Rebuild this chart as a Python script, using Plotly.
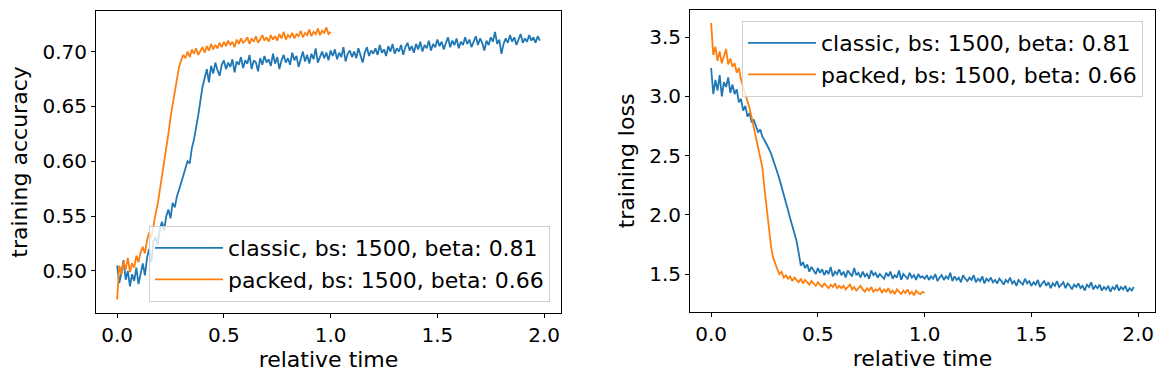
import numpy as np
import plotly.graph_objects as go

# ---------------- data ----------------
classic_acc = [
    0.505, 0.489, 0.498, 0.510, 0.492, 0.500, 0.486, 0.497, 0.491, 0.503, 0.488,
    0.499, 0.507, 0.496, 0.512, 0.520, 0.508, 0.527, 0.531, 0.524, 0.538,
    0.545, 0.537, 0.550, 0.556, 0.548, 0.562, 0.558, 0.568, 0.574, 0.580,
    0.586, 0.594, 0.600, 0.598, 0.612, 0.620, 0.630, 0.642, 0.655, 0.668,
    0.676, 0.684, 0.672, 0.687, 0.680, 0.690, 0.683, 0.678, 0.688, 0.692,
    0.684, 0.690, 0.686, 0.693, 0.681, 0.691, 0.688, 0.695, 0.685, 0.692,
    0.689, 0.697, 0.684, 0.692, 0.690, 0.682, 0.694, 0.688, 0.696, 0.690,
    0.693, 0.687, 0.698, 0.689, 0.695, 0.684, 0.692, 0.697, 0.690, 0.694,
    0.688, 0.699, 0.692, 0.696, 0.686, 0.694, 0.700, 0.691, 0.697, 0.689,
    0.698, 0.693, 0.703, 0.690, 0.696, 0.700, 0.694, 0.699, 0.692, 0.701,
    0.696, 0.702, 0.693, 0.699, 0.695, 0.704, 0.691, 0.698, 0.701, 0.695,
    0.700, 0.694, 0.703, 0.697, 0.690, 0.699, 0.704, 0.696, 0.701, 0.698,
    0.703, 0.697, 0.706, 0.699, 0.702, 0.696, 0.705, 0.700, 0.707, 0.698,
    0.703, 0.700, 0.706, 0.697, 0.704, 0.708, 0.701, 0.705, 0.699, 0.707,
    0.702, 0.709, 0.700, 0.706, 0.703, 0.710, 0.701, 0.707, 0.704, 0.711,
    0.705, 0.709, 0.702, 0.708, 0.713, 0.704, 0.710, 0.706, 0.712, 0.703,
    0.709, 0.706, 0.713, 0.707, 0.711, 0.704, 0.710, 0.714, 0.706, 0.712,
    0.708, 0.701, 0.710, 0.706, 0.713, 0.709, 0.718, 0.707, 0.711, 0.698,
    0.707, 0.712, 0.708, 0.715, 0.709, 0.713, 0.706, 0.711, 0.716, 0.708,
    0.712, 0.709, 0.715, 0.710, 0.713, 0.708, 0.714, 0.710,
]
packed_acc = [
    0.474, 0.505, 0.497, 0.509, 0.501, 0.512, 0.499, 0.507, 0.503, 0.514, 0.508,
    0.517, 0.522, 0.516, 0.528, 0.535, 0.530, 0.543, 0.552, 0.561, 0.573,
    0.585, 0.597, 0.610, 0.625, 0.640, 0.652, 0.665, 0.678, 0.686, 0.692,
    0.697, 0.694, 0.700, 0.695, 0.702, 0.698, 0.703, 0.697, 0.701, 0.704,
    0.699, 0.705, 0.701, 0.707, 0.702, 0.706, 0.703, 0.708, 0.704, 0.709,
    0.705, 0.710, 0.706, 0.709, 0.704, 0.711, 0.707, 0.712, 0.708, 0.710,
    0.713, 0.707, 0.712, 0.709, 0.714, 0.708, 0.711, 0.715, 0.710, 0.713,
    0.709, 0.715, 0.711, 0.714, 0.710, 0.716, 0.712, 0.718, 0.711, 0.715,
    0.713, 0.717, 0.712, 0.716, 0.714, 0.719, 0.713, 0.717, 0.715, 0.720,
    0.714, 0.718, 0.716, 0.721, 0.715, 0.719, 0.717, 0.722, 0.716, 0.718,
]
classic_loss = [
    3.24, 3.02, 3.14, 3.05, 3.18, 3.00, 3.12, 3.08, 3.16, 3.03, 3.10,
    3.02, 3.06, 2.95, 2.98, 2.88, 2.92, 2.83, 2.86, 2.78, 2.80,
    2.74, 2.70, 2.72, 2.66, 2.63, 2.60, 2.56, 2.52, 2.47, 2.42,
    2.36, 2.30, 2.24, 2.17, 2.10, 2.04, 1.97, 1.90, 1.84, 1.78,
    1.68, 1.57, 1.60, 1.55, 1.58, 1.52, 1.56, 1.53, 1.50, 1.55,
    1.51, 1.54, 1.49, 1.53, 1.50, 1.56, 1.48, 1.52, 1.50, 1.54,
    1.49, 1.52, 1.47, 1.53, 1.50, 1.48, 1.55, 1.49, 1.51, 1.47,
    1.52, 1.48, 1.50, 1.46, 1.53, 1.49, 1.51, 1.47, 1.50, 1.48,
    1.46, 1.51, 1.48, 1.52, 1.46, 1.49, 1.47, 1.53, 1.45, 1.50,
    1.48, 1.46, 1.51, 1.47, 1.49, 1.45, 1.50, 1.47, 1.48, 1.46,
    1.49, 1.45, 1.48, 1.46, 1.50, 1.44, 1.47, 1.49, 1.45, 1.48,
    1.46, 1.51, 1.44, 1.48, 1.45, 1.47, 1.43, 1.49, 1.46, 1.44,
    1.47, 1.45, 1.49, 1.43, 1.46, 1.44, 1.48, 1.42, 1.46, 1.44,
    1.47, 1.43, 1.45, 1.42, 1.46, 1.44, 1.41, 1.45, 1.43, 1.47,
    1.42, 1.44, 1.40, 1.45, 1.43, 1.41, 1.46, 1.42, 1.44, 1.40,
    1.43, 1.41, 1.45, 1.39, 1.42, 1.44, 1.40, 1.43, 1.38, 1.42,
    1.40, 1.44, 1.39, 1.41, 1.43, 1.38, 1.42, 1.40, 1.37, 1.41,
    1.39, 1.42, 1.38, 1.40, 1.36, 1.41, 1.39, 1.43, 1.37, 1.40,
    1.38, 1.41, 1.36, 1.39, 1.37, 1.40, 1.35, 1.39, 1.37, 1.41,
    1.36, 1.39, 1.37, 1.40, 1.35, 1.38, 1.36, 1.39,
]
packed_loss = [
    3.62, 3.35, 3.42, 3.30, 3.38, 3.28, 3.34, 3.40, 3.27, 3.32, 3.25,
    3.28, 3.20, 3.24, 3.14, 3.08, 3.03, 2.96, 2.90, 2.82, 2.74,
    2.66, 2.58, 2.50, 2.40, 2.22, 2.05, 1.88, 1.74, 1.64, 1.58,
    1.54, 1.50, 1.52, 1.47, 1.49, 1.46, 1.48, 1.44, 1.47, 1.45,
    1.43, 1.46, 1.42, 1.45, 1.43, 1.41, 1.44, 1.42, 1.40, 1.43,
    1.41, 1.39, 1.42, 1.40, 1.38, 1.41, 1.39, 1.42, 1.38, 1.40,
    1.38, 1.40, 1.37, 1.39, 1.41, 1.37, 1.39, 1.36, 1.38, 1.40,
    1.37, 1.35, 1.38, 1.36, 1.39, 1.35, 1.37, 1.36, 1.38, 1.34,
    1.37, 1.35, 1.38, 1.34, 1.36, 1.33, 1.37, 1.35, 1.33, 1.36,
    1.34, 1.37, 1.33, 1.35, 1.32, 1.36, 1.34, 1.33, 1.35, 1.34,
]
classic_end_time = 1.98
packed_end_time = 1.0
classic_name = "classic, bs: 1500, beta: 0.81"
packed_name = "packed, bs: 1500, beta: 0.66"
x_ticks = [0.0, 0.5, 1.0, 1.5, 2.0]
acc_ticks = [0.50, 0.55, 0.60, 0.65, 0.70]
loss_ticks = [1.5, 2.0, 2.5, 3.0, 3.5]

t_classic_acc = np.linspace(0, classic_end_time, len(classic_acc))
t_packed_acc = np.linspace(0, packed_end_time, len(packed_acc))
t_classic_loss = np.linspace(0, classic_end_time, len(classic_loss))
t_packed_loss = np.linspace(0, packed_end_time, len(packed_loss))

BLUE = "#1f77b4"
ORANGE = "#ff7f0e"
FONT = "DejaVu Sans"
W, H = 1166, 381
TICK_FS = 20
LABEL_FS = 22

fig = go.Figure()
fig.add_trace(go.Scatter(x=t_classic_acc, y=classic_acc, mode="lines", name=classic_name,
                         line=dict(color=BLUE, width=1.8), xaxis="x", yaxis="y", legend="legend"))
fig.add_trace(go.Scatter(x=t_packed_acc, y=packed_acc, mode="lines", name=packed_name,
                         line=dict(color=ORANGE, width=1.8), xaxis="x", yaxis="y", legend="legend"))
fig.add_trace(go.Scatter(x=t_classic_loss, y=classic_loss, mode="lines", name=classic_name,
                         line=dict(color=BLUE, width=1.8), xaxis="x2", yaxis="y2", legend="legend2"))
fig.add_trace(go.Scatter(x=t_packed_loss, y=packed_loss, mode="lines", name=packed_name,
                         line=dict(color=ORANGE, width=1.8), xaxis="x2", yaxis="y2", legend="legend2"))

axis_common = dict(showline=True, linecolor="black", linewidth=1, mirror=True,
                   ticks="outside", ticklen=4, tickwidth=1, tickcolor="black",
                   showgrid=False, zeroline=False, automargin=False,
                   tickfont=dict(family=FONT, size=TICK_FS, color="black"))
title_font = dict(family=FONT, size=LABEL_FS, color="black")
legend_common = dict(bgcolor="rgba(255,255,255,0.8)", bordercolor="#d0d0d0", borderwidth=1,
                     itemwidth=68, font=dict(family=FONT, size=LABEL_FS, color="black"))

xr = [-0.099, 2.079]
fig.update_layout(
    width=W, height=H,
    margin=dict(l=0, r=0, t=0, b=0),
    paper_bgcolor="white", plot_bgcolor="white",
    font=dict(family=FONT, size=LABEL_FS, color="black"),
    xaxis=dict(domain=[96 / W, 561 / W], range=xr, tickvals=x_ticks, tickformat=".1f",
               anchor="y", title=dict(text="relative time", standoff=4, font=title_font),
               **axis_common),
    yaxis=dict(domain=[1 - 313 / H, 1 - 11 / H], range=[0.4617, 0.737], tickvals=acc_ticks,
               tickformat=".2f", anchor="x",
               title=dict(text="training accuracy", standoff=8, font=title_font), **axis_common),
    xaxis2=dict(domain=[690 / W, 1155 / W], range=xr, tickvals=x_ticks, tickformat=".1f",
                anchor="y2", title=dict(text="relative time", standoff=4, font=title_font),
                **axis_common),
    yaxis2=dict(domain=[1 - 312 / H, 1 - 10 / H], range=[1.179, 3.73], tickvals=loss_ticks,
                tickformat=".1f", anchor="x2",
                title=dict(text="training loss", standoff=8, font=title_font), **axis_common),
    legend=dict(x=550 / W, y=1 - 302 / H, xanchor="right", yanchor="bottom", **legend_common),
    legend2=dict(x=1143 / W, y=1 - 21 / H, xanchor="right", yanchor="top", **legend_common),
    showlegend=True,
)

fig.write_html("out.html", config={"displayModeBar": False},
               post_script="document.body.style.margin='0';document.body.style.overflow='hidden';")
